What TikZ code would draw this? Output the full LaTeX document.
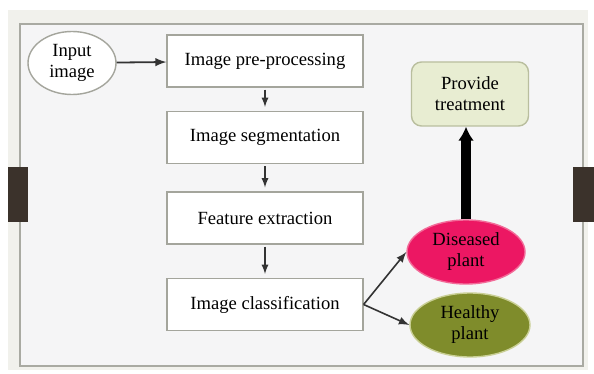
\documentclass[tikz,border=0pt]{standalone}
\usepackage{fontspec}
\setmainfont{Liberation Serif}
\usetikzlibrary{shapes.geometric,arrows.meta}
\definecolor{bgouter}{HTML}{F1F1EC}
\definecolor{bginner}{HTML}{F5F5F6}
\definecolor{framegray}{HTML}{A9AAA2}
\definecolor{tabbrown}{HTML}{3B322B}
\definecolor{boxgray}{HTML}{A4A59C}
\definecolor{treatfill}{HTML}{E8EDD2}
\definecolor{treatedge}{HTML}{B9BE9E}
\definecolor{diseasefill}{HTML}{EC1763}
\definecolor{diseaseedge}{HTML}{F26A98}
\definecolor{healthfill}{HTML}{7F8C2B}
\definecolor{healthedge}{HTML}{C9CF95}
\tikzset{
  stepbox/.style={draw=boxgray, line width=0.6pt, fill=white,
    minimum width=98pt, minimum height=26pt, inner sep=0pt},
  blob/.style={ellipse, line width=0.7pt, align=center, inner sep=0pt,
    minimum width=59pt, minimum height=32pt},
}
\begin{document}
\begin{tikzpicture}[x=0.5pt,y=-0.5pt,
    font=\fontsize{9.3}{10.5}\selectfont]
  \useasboundingbox (0,0) rectangle (594,374);
  % frame
  \fill[bgouter] (8,10) rectangle (588,370);
  \draw[framegray, line width=0.8pt, fill=bginner] (20,24) rectangle (583,366);
  \fill[tabbrown] (8,167) rectangle (28,222);
  \fill[tabbrown] (573,167) rectangle (594,222);

  \node[blob, draw=boxgray, fill=white, minimum width=44pt, minimum height=31.5pt]
    (input) at (72,63) {Input\\image};
  \node[stepbox] (pre) at (265,61) {Image pre-processing};
  \node[stepbox] (seg) at (265,137.5) {Image segmentation};
  \node[stepbox] (feat) at (265,218) {Feature extraction};
  \node[stepbox] (cls) at (265,304.5) {Image classification};
  \node[draw=treatedge, fill=treatfill, line width=0.7pt, rounded corners=5pt,
    align=center, minimum width=58.5pt, minimum height=32pt, inner sep=0pt]
    (treat) at (470,94) {Provide\\treatment};
  \node[blob, draw=diseaseedge, fill=diseasefill] (dis) at (466,252) {Diseased\\plant};
  \node[blob, draw=healthedge, fill=healthfill, minimum width=60pt]
    (heal) at (470,325) {Healthy\\plant};

  \draw[-latex, line width=0.9pt, black!80]
    (input) edge (pre);
  \draw[-latex, line width=0.6pt, black!80, shorten <=1pt, shorten >=2pt]
    (pre) edge (seg)
    (seg) edge (feat)
    (feat) edge (cls);
  \draw[-latex, line width=0.8pt, black!80] (cls.east) -- (dis.west);
  \draw[-latex, line width=0.8pt, black!80] (cls.east) -- (heal.west);
  \draw[-{Latex[length=7pt,width=8pt]}, line width=5pt]
    (dis.north) -- (dis.north |- treat.south);
\end{tikzpicture}
\end{document}
